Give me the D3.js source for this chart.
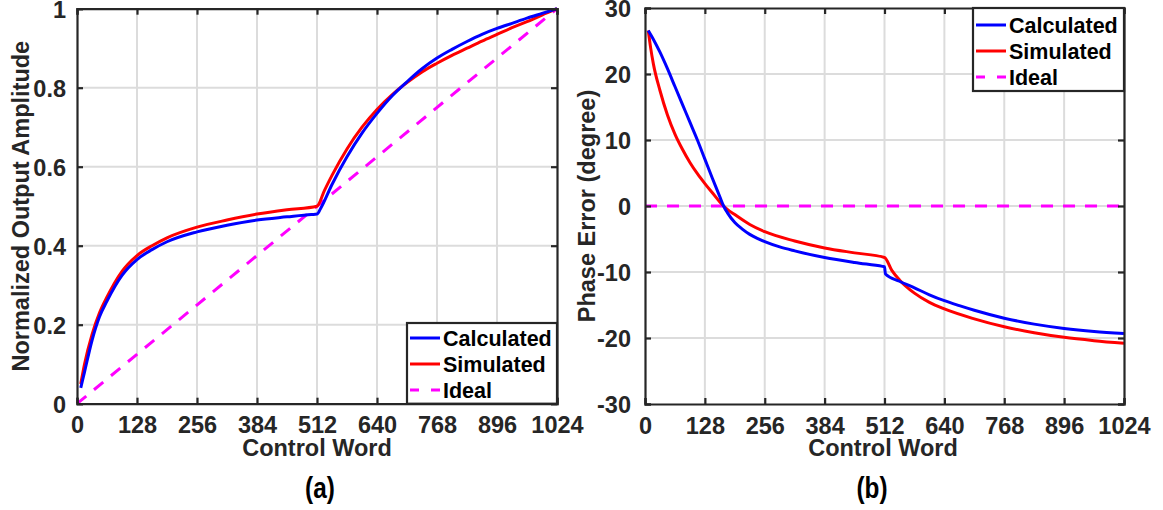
<!DOCTYPE html>
<html><head><meta charset="utf-8">
<script src="https://cdn.jsdelivr.net/npm/d3@7"></script>
<style>
html,body{margin:0;padding:0;background:#fff;}
svg{display:block;}
text{font-family:"Liberation Sans",Arial,sans-serif;font-weight:bold;}
</style></head>
<body>
<svg id="chart" width="1163" height="510"></svg>
<script>
// ---- Data ----
const xTicks = [0,128,256,384,512,640,768,896,1024];
const ampTicks = [0,0.2,0.4,0.6,0.8,1];
const phaseTicks = [-30,-20,-10,0,10,20,30];
const seriesNames = ["Calculated","Simulated","Ideal"];

const ampCalcX = [8,16,32,48,64,96,128,160,192,256,320,384,448,500,512,520,544,576,608,640,672,704,736,768,800,832,864,896,928,960,992,1024];
const ampCalcY = [0.04,0.08,0.16,0.22,0.26,0.325,0.365,0.39,0.41,0.435,0.452,0.465,0.473,0.479,0.48,0.495,0.555,0.625,0.685,0.735,0.779,0.815,0.848,0.875,0.897,0.917,0.935,0.95,0.963,0.976,0.988,1.0];
const ampSimX = [8,16,32,48,64,96,128,160,192,256,320,384,448,512,528,544,576,608,640,672,704,736,768,800,832,864,896,928,960,992,1024];
const ampSimY = [0.05,0.10,0.175,0.23,0.27,0.335,0.375,0.40,0.42,0.447,0.465,0.48,0.491,0.50,0.54,0.578,0.645,0.70,0.745,0.782,0.813,0.84,0.862,0.882,0.90,0.918,0.935,0.952,0.967,0.984,1.0];
const ampIdealX = [0,1024];
const ampIdealY = [0,1];

const phCalcX = [7,16,32,48,64,80,96,112,128,144,160,168,176,192,208,224,240,256,288,320,384,448,508,512,514,544,576,608,640,672,704,768,832,896,960,1024];
const phCalcY = [26.6,25.5,23.3,20.8,18.1,15.4,12.7,10.0,7.1,4.2,1.4,0,-1.0,-2.5,-3.5,-4.3,-4.9,-5.4,-6.2,-6.8,-7.8,-8.55,-9.15,-9.2,-10.3,-11.4,-12.4,-13.45,-14.35,-15.1,-15.8,-17.0,-17.9,-18.55,-19.0,-19.3];
const phSimX = [7,12,18,32,48,64,80,96,112,128,144,160,168,176,192,224,256,320,384,448,512,528,544,576,608,640,704,768,832,896,960,1024];
const phSimY = [26.6,24.0,21.5,17.5,13.8,10.9,8.6,6.6,4.9,3.4,2.0,0.6,0.0,-0.5,-1.3,-2.8,-3.9,-5.3,-6.35,-7.1,-7.8,-9.8,-11.2,-13.2,-14.6,-15.6,-17.1,-18.3,-19.2,-19.9,-20.4,-20.8];
const phIdealX = [0,1024];
const phIdealY = [0,0];

const colors = {Calculated:"#0000ff", Simulated:"#ff0000", Ideal:"#ff00ff"};
const ink = "#262626";

const svg = d3.select("#chart");
const fmtInt = d => String(d);  // hyphen-minus like the reference

function panel(cfg){
  const g = svg.append("g");
  const x = d3.scaleLinear().domain([0,1024]).range([cfg.x0,cfg.x1]);
  const y = d3.scaleLinear().domain(cfg.yDomain).range([cfg.y1,cfg.y0]);
  // grid
  g.append("g").selectAll("line").data(xTicks.slice(1,-1)).join("line")
    .attr("x1",d=>x(d)).attr("x2",d=>x(d)).attr("y1",cfg.y0).attr("y2",cfg.y1)
    .attr("stroke","#dcdcdc").attr("stroke-width",2);
  g.append("g").selectAll("line").data(cfg.yTicks.slice(1,-1)).join("line")
    .attr("y1",d=>y(d)).attr("y2",d=>y(d)).attr("x1",cfg.x0).attr("x2",cfg.x1)
    .attr("stroke","#dcdcdc").attr("stroke-width",2);
  // lines
  const line = d3.line().x(d=>x(d[0])).y(d=>y(d[1])).curve(d3.curveMonotoneX);
  const series = [
    {name:"Ideal", xs:cfg.ideal[0], ys:cfg.ideal[1], dash:"12,10"},
    {name:"Simulated", xs:cfg.sim[0], ys:cfg.sim[1]},
    {name:"Calculated", xs:cfg.calc[0], ys:cfg.calc[1]}
  ];
  ["Ideal","Simulated","Calculated"].forEach(n=>{
    const s = series.find(q=>q.name===n);
    g.append("path").datum(d3.zip(s.xs,s.ys))
      .attr("d",line).attr("fill","none").attr("stroke",colors[s.name])
      .attr("stroke-width",3).attr("stroke-dasharray",s.dash||null);
  });
  // axes (box)
  const axB = d3.axisBottom(x).tickValues(xTicks).tickSize(-6).tickPadding(14).tickFormat(fmtInt);
  const axT = d3.axisTop(x).tickValues(xTicks).tickSize(-6).tickFormat("");
  const axL = d3.axisLeft(y).tickValues(cfg.yTicks).tickSize(-6).tickPadding(cfg.yPad).tickFormat(cfg.yFormat);
  const axR = d3.axisRight(y).tickValues(cfg.yTicks).tickSize(-6).tickFormat("");
  const axes = [
    g.append("g").attr("transform",`translate(0,${cfg.y1})`).call(axB),
    g.append("g").attr("transform",`translate(0,${cfg.y0})`).call(axT),
    g.append("g").attr("transform",`translate(${cfg.x0},0)`).call(axL),
    g.append("g").attr("transform",`translate(${cfg.x1},0)`).call(axR)
  ];
  axes.forEach(a=>{
    a.select(".domain").attr("stroke",ink).attr("stroke-width",2.2);
    a.selectAll(".tick line").attr("stroke",ink).attr("stroke-width",2.2);
    a.selectAll(".tick text").attr("fill",ink).style("font-size","23.5px")
      .style("font-family","'Liberation Sans',Arial,sans-serif").style("font-weight","bold");
  });
  axes[0].selectAll(".tick text").attr("dy","0.66em");
  axes[2].selectAll(".tick text").attr("dy","0.38em");
  // axis labels
  g.append("text").attr("x",cfg.xlabX).attr("y",456).attr("text-anchor","middle")
    .attr("fill",ink).style("font-size","23.5px").text("Control Word");
  g.append("text").attr("transform",`translate(${cfg.ylabX},${(cfg.y0+cfg.y1)/2}) rotate(-90)`)
    .attr("text-anchor","middle").attr("fill",ink).style("font-size","23.5px").text(cfg.ylabel);
  g.append("text").attr("transform",`translate(${cfg.capX},498) scale(0.84,1)`).attr("text-anchor","middle")
    .attr("fill","#000").style("font-size","29px").text(cfg.caption);
  // legend
  const L = cfg.legend;
  const lg = g.append("g");
  lg.append("rect").attr("x",L.x0).attr("y",L.y0).attr("width",L.x1-L.x0).attr("height",L.y1-L.y0)
    .attr("fill","#fff").attr("stroke",ink).attr("stroke-width",2.2);
  seriesNames.forEach((n,i)=>{
    const cy = L.rowY + i*26;
    lg.append("line").attr("x1",L.x0+3).attr("x2",L.x0+33).attr("y1",cy).attr("y2",cy)
      .attr("stroke",colors[n]).attr("stroke-width",3)
      .attr("stroke-dasharray",n==="Ideal"?"9,12":null);
    lg.append("text").attr("x",L.x0+36).attr("y",cy).attr("dy","0.36em")
      .attr("fill","#000").style("font-size","21.5px").text(n);
  });
}

panel({
  x0:77, x1:557, y0:8.7, y1:403.7,
  yDomain:[0,1], yTicks:ampTicks, yFormat:d=>d===0||d===1?String(d):d.toFixed(1), yPad:11,
  calc:[ampCalcX,ampCalcY], sim:[ampSimX,ampSimY], ideal:[ampIdealX,ampIdealY],
  xlabX:317, ylabX:29, ylabel:"Normalized Output Amplitude", capX:320, caption:"(a)",
  legend:{x0:407,x1:557,y0:323,y1:403.7,rowY:338}
});
panel({
  x0:645, x1:1124, y0:8, y1:404,
  yDomain:[-30,30], yTicks:phaseTicks, yFormat:fmtInt, yPad:14,
  calc:[phCalcX,phCalcY], sim:[phSimX,phSimY], ideal:[phIdealX,phIdealY],
  xlabX:883, ylabX:595, ylabel:"Phase Error (degree)", capX:872, caption:"(b)",
  legend:{x0:973,x1:1124,y0:8,y1:91,rowY:25}
});
</script>
</body></html>
